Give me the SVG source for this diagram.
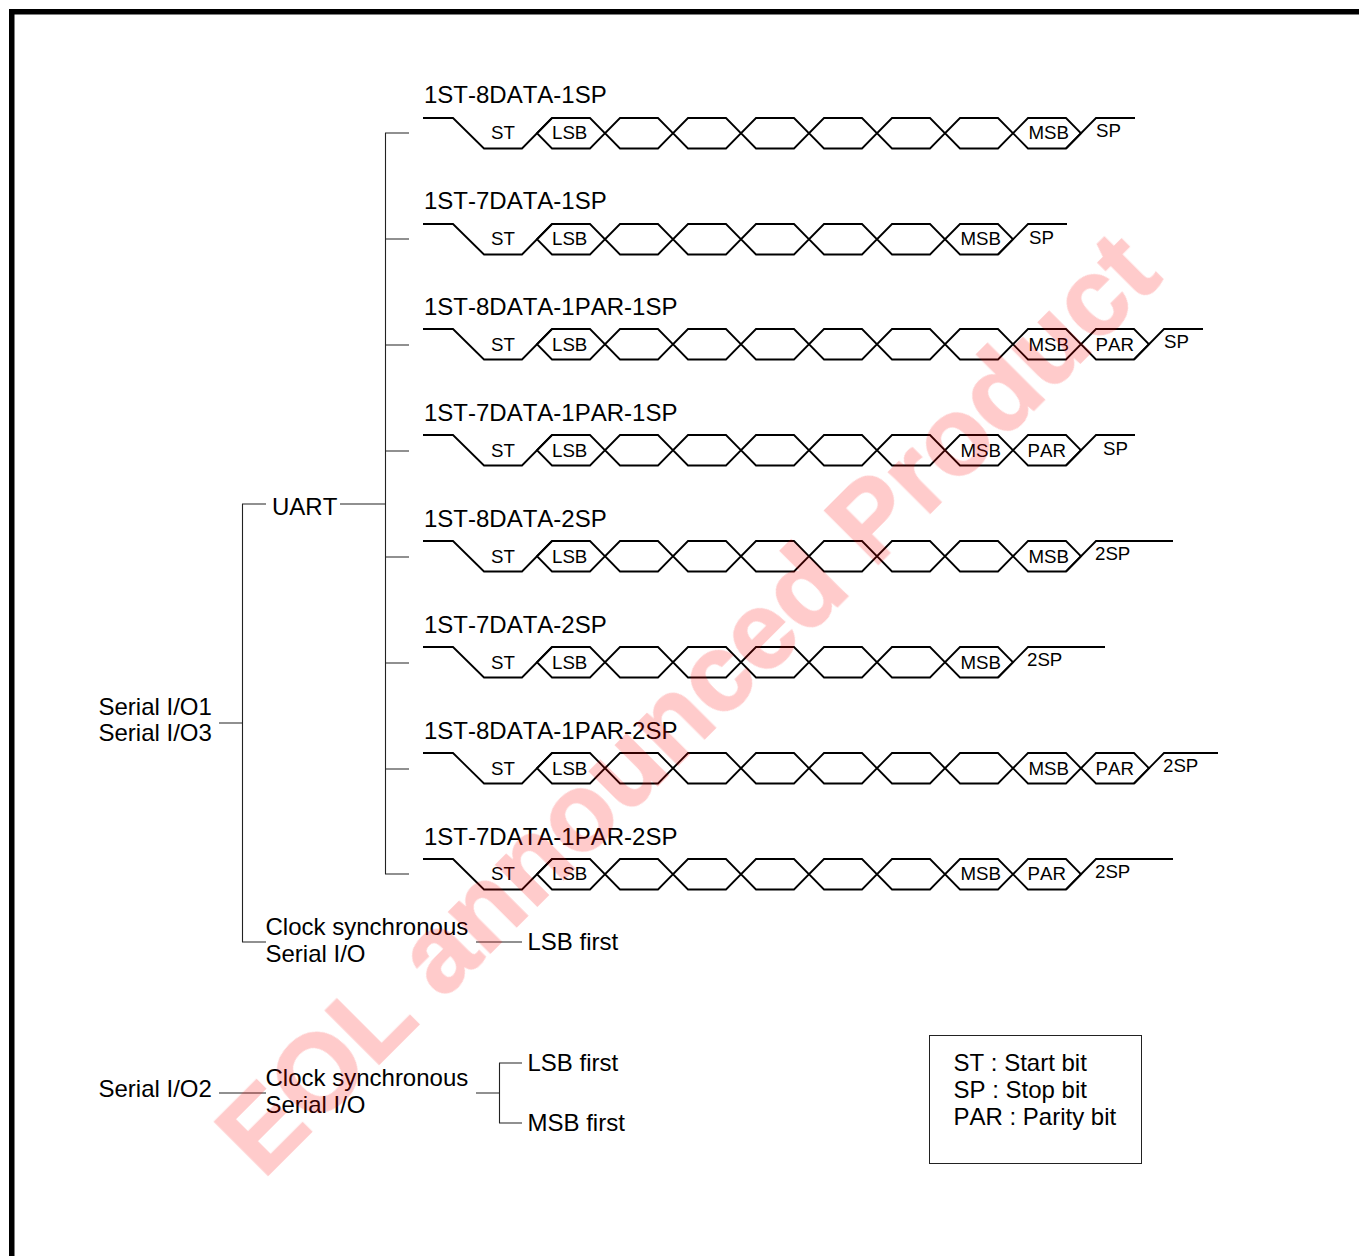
<svg xmlns="http://www.w3.org/2000/svg" width="1359" height="1256" viewBox="0 0 1359 1256">
<style>
text{font-family:"Liberation Sans",Arial,sans-serif;fill:#000;font-kerning:none}
.t{font-size:24px}
.s{font-size:18.7px}
.w{fill:none;stroke:#000;stroke-width:1.8;stroke-linejoin:miter}
.c{fill:none;stroke:#222;stroke-width:1.1}
.wm{font-size:108.7px;font-weight:bold;fill:#f00;stroke:#f00;stroke-width:2;opacity:.2}
</style>
<defs>
<filter id="soft" x="-5%" y="-5%" width="110%" height="110%"><feGaussianBlur stdDeviation="0.7"/></filter>
<path id="hex" class="w" d="M0 15.25L15 0H53L68 15.25L53 30.5H15Z"/>
<g id="head">
<path class="w" d="M423 118H453L484 148.5H522L552 118"/>
<use href="#hex" x="537" y="118"/><use href="#hex" x="605" y="118"/><use href="#hex" x="673" y="118"/><use href="#hex" x="741" y="118"/><use href="#hex" x="809" y="118"/><use href="#hex" x="877" y="118"/>
<text class="s" x="491" y="139">ST</text>
<text class="s" x="552" y="139">LSB</text>
</g>
<g id="head2">
<path class="w" d="M423 118H453L484 148.5H522L552 118"/>
<use href="#hex" x="537" y="118"/><use href="#hex" x="605" y="118"/><use href="#hex" x="673" y="118"/><use href="#hex" x="741" y="118"/><use href="#hex" x="809" y="118"/><use href="#hex" x="877" y="118"/>
<text class="s" x="491" y="140">ST</text>
<text class="s" x="552" y="140">LSB</text>
</g>
<g id="m7"><use href="#hex" x="945" y="118"/><text class="s" x="960.5" y="139">MSB</text></g>
<g id="m72"><use href="#hex" x="945" y="118"/><text class="s" x="960.5" y="140">MSB</text></g>
<g id="m8"><use href="#hex" x="945" y="118"/><use href="#hex" x="1013" y="118"/><text class="s" x="1028.5" y="139">MSB</text></g>
<g id="m82"><use href="#hex" x="945" y="118"/><use href="#hex" x="1013" y="118"/><text class="s" x="1028.5" y="140">MSB</text></g>
</defs>
<rect width="1359" height="1256" fill="#fff"/>
<path id="frame" d="M11.75 1256V11.75H1359" fill="none" stroke="#000" stroke-width="5.5"/>
<g id="connectors">
<path class="c" d="M409 133H385.5V874H409M385.5 239H409M385.5 345H409M385.5 451H409M385.5 557H409M385.5 663H409M385.5 769H409M340 504H385.5"/>
<path class="c" d="M266 504H242.5V942H266M219 723H242.5"/>
<path class="c" d="M476 942H522"/>
<path class="c" d="M219 1093H266"/>
<path class="c" d="M476 1093H499M522 1063H499.5V1123H522"/>
</g>
<g id="frame-1st-8data-1sp">
<text class="t" x="424" y="103">1ST-8DATA-1SP</text>
<use href="#head"/><use href="#m8"/>
<path class="w" d="M1066 148.5L1096 118H1135"/>
<text class="s" x="1096" y="136.5">SP</text>
</g>
<g id="frame-1st-7data-1sp" transform="translate(0 106)">
<text class="t" x="424" y="103">1ST-7DATA-1SP</text>
<use href="#head"/><use href="#m7"/>
<path class="w" d="M998 148.5L1028 118H1067"/>
<text class="s" x="1029" y="137.5">SP</text>
</g>
<g id="frame-1st-8data-1par-1sp" transform="translate(0 211)">
<text class="t" x="424" y="104">1ST-8DATA-1PAR-1SP</text>
<use href="#head2"/><use href="#m82"/><use href="#hex" x="1081" y="118"/>
<text class="s" x="1095.5" y="140">PAR</text>
<path class="w" d="M1134 148.5L1164 118H1203"/>
<text class="s" x="1164" y="136.5">SP</text>
</g>
<g id="frame-1st-7data-1par-1sp" transform="translate(0 317)">
<text class="t" x="424" y="104">1ST-7DATA-1PAR-1SP</text>
<use href="#head2"/><use href="#m72"/><use href="#hex" x="1013" y="118"/>
<text class="s" x="1027.5" y="140">PAR</text>
<path class="w" d="M1066 148.5L1096 118H1135"/>
<text class="s" x="1103" y="137.5">SP</text>
</g>
<g id="frame-1st-8data-2sp" transform="translate(0 423)">
<text class="t" x="424" y="104">1ST-8DATA-2SP</text>
<use href="#head2"/><use href="#m82"/>
<path class="w" d="M1066 148.5L1096 118H1173"/>
<text class="s" x="1095" y="136.5">2SP</text>
</g>
<g id="frame-1st-7data-2sp" transform="translate(0 529)">
<text class="t" x="424" y="104">1ST-7DATA-2SP</text>
<use href="#head2"/><use href="#m72"/>
<path class="w" d="M998 148.5L1028 118H1105"/>
<text class="s" x="1027" y="136.5">2SP</text>
</g>
<g id="frame-1st-8data-1par-2sp" transform="translate(0 635)">
<text class="t" x="424" y="104">1ST-8DATA-1PAR-2SP</text>
<use href="#head2"/><use href="#m82"/><use href="#hex" x="1081" y="118"/>
<text class="s" x="1095.5" y="140">PAR</text>
<path class="w" d="M1134 148.5L1164 118H1218"/>
<text class="s" x="1163" y="136.5">2SP</text>
</g>
<g id="frame-1st-7data-1par-2sp" transform="translate(0 741)">
<text class="t" x="424" y="104">1ST-7DATA-1PAR-2SP</text>
<use href="#head"/><use href="#m7"/><use href="#hex" x="1013" y="118"/>
<text class="s" x="1027.5" y="139">PAR</text>
<path class="w" d="M1066 148.5L1096 118H1173"/>
<text class="s" x="1095" y="136.5">2SP</text>
</g>
<g id="uart"><text class="t" x="272" y="515">UART</text></g>
<g id="serial-io1-3"><text class="t" x="98.5" y="715">Serial I/O1</text><text class="t" x="98.5" y="741">Serial I/O3</text></g>
<g id="clock-sync-1"><text class="t" x="265.5" y="935">Clock synchronous</text><text class="t" x="265.5" y="962">Serial I/O</text></g>
<g id="lsb-first-1"><text class="t" x="527.5" y="950">LSB first</text></g>
<g id="serial-io2"><text class="t" x="98.5" y="1097">Serial I/O2</text></g>
<g id="clock-sync-2"><text class="t" x="265.5" y="1086">Clock synchronous</text><text class="t" x="265.5" y="1113">Serial I/O</text></g>
<g id="lsb-first-2"><text class="t" x="527.5" y="1071">LSB first</text></g>
<g id="msb-first-2"><text class="t" x="527.5" y="1131">MSB first</text></g>
<g id="legend">
<rect x="929.5" y="1035.5" width="212" height="128" fill="none" stroke="#222" stroke-width="1"/>
<text class="t" x="953.5" y="1071">ST : Start bit</text>
<text class="t" x="953.5" y="1098">SP : Stop bit</text>
<text class="t" x="953.5" y="1125">PAR : Parity bit</text>
</g>
<text id="watermark" class="wm" filter="url(#soft)" transform="translate(263 1180) rotate(-45)">EOL announced Product</text>
</svg>
